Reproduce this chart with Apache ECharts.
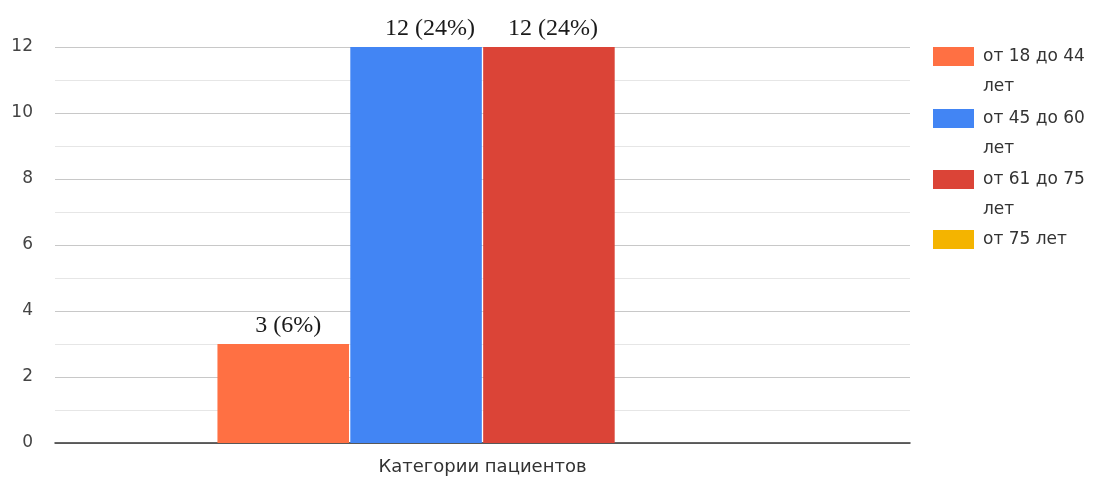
<!DOCTYPE html>
<html>
<head>
<meta charset="utf-8">
<script src="https://cdn.jsdelivr.net/npm/echarts@6/dist/echarts.min.js"></script>
<style>
html, body { margin: 0; padding: 0; background: #fff; }
#chart { width: 1096px; height: 478px; }
</style>
</head>
<body>
<div id="chart"></div>
<script>
// данные диаграммы
const categories = ['Категории пациентов'];
const groups = ['от 18 до 44 лет', 'от 45 до 60 лет', 'от 61 до 75 лет', 'от 75 лет'];
const counts = [3, 12, 12, 0];
const percents = ['6%', '24%', '24%', '0%'];
const colors = ['#ff7043', '#4285f4', '#db4437', '#f4b400'];
const yTicks = [0, 2, 4, 6, 8, 10, 12];

let chart = echarts.init(document.getElementById('chart'));

// у каждой группы своя легенда, чтобы значок стоял у первой строки
const legendTops = [11.5, 73.5, 134.5, 224.5];
const labelShift = [5, 14, 4, 0];
let legends = groups.map(function (g, i) {
    let twoLines = i < 3;
    return {
        data: [g],
        orient: 'vertical',
        left: 933,
        top: legendTops[i],
        padding: 0,
        itemWidth: 41,
        itemHeight: 19,
        icon: 'rect',
        selectedMode: false,
        formatter: function (name) {
            // пустая первая строка: значок встаёт напротив первой строки текста
            return twoLines ? '\n' + name.replace(' лет', '\nлет') : name;
        },
        textStyle: {
            fontFamily: 'DejaVu Sans',
            fontSize: 17,
            color: '#333',
            lineHeight: 30,
            padding: [0, 0, 0, 4]
        }
    };
});

let series = groups.map(function (g, i) {
    return {
        name: g,
        type: 'bar',
        data: [counts[i]],
        barGap: '1%',
        barCategoryGap: '38%',
        itemStyle: { color: colors[i] },
        label: {
            show: true,
            position: 'top',
            distance: 6,
            offset: [labelShift[i], 0],
            fontFamily: 'Liberation Serif',
            fontSize: 24,
            color: '#1a1a1a',
            formatter: function (p) {
                return p.value ? p.value + ' (' + percents[i] + ')' : '';
            }
        }
    };
});

const option = {
    animation: false,
    backgroundColor: '#fff',
    grid: { left: 55, right: 186, top: 47, bottom: 35 },
    legend: legends,
    xAxis: {
        type: 'category',
        data: categories,
        axisLine: { lineStyle: { color: '#333', width: 1.5 } },
        axisTick: { show: false },
        axisLabel: {
            margin: 15,
            fontFamily: 'DejaVu Sans',
            fontSize: 18,
            color: '#333'
        }
    },
    yAxis: {
        type: 'value',
        min: yTicks[0],
        max: yTicks[yTicks.length - 1],
        interval: 2,
        axisLine: { show: false },
        axisTick: { show: false },
        axisLabel: {
            margin: 22,
            fontFamily: 'DejaVu Sans',
            fontSize: 17,
            color: '#444'
        },
        splitLine: { lineStyle: { color: '#c8c8c8' } },
        minorTick: { show: false, splitNumber: 2 },
        minorSplitLine: { show: true, lineStyle: { color: '#e6e6e6' } }
    },
    series: series
};

chart.setOption(option);

window.addEventListener('resize', function () {
    chart.resize();
});
</script>
</body>
</html>
